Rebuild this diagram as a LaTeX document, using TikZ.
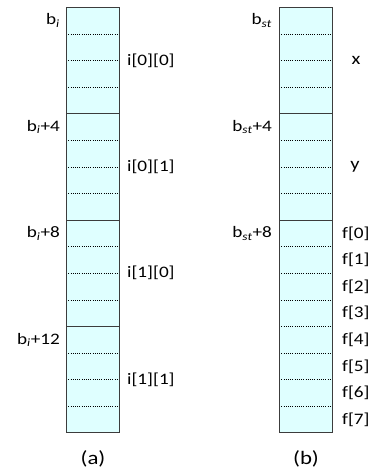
\documentclass[tikz,border=0pt]{standalone}
\usepackage{fontspec}
\setmainfont[FakeStretch=1.2]{Carlito}
\definecolor{cellfill}{RGB}{223,255,255}
\definecolor{edge}{RGB}{60,60,60}
\begin{document}
\begin{tikzpicture}[x=1pt,y=-1pt,
  cell/.style={draw=none,fill=cellfill,minimum width=53.5pt,minimum height=26.6pt,inner sep=0pt,outer sep=0pt},
  addr/.style={anchor=east,inner sep=0pt,font=\fontsize{16}{18}\selectfont},
  var/.style={anchor=west,inner sep=0pt,font=\fontsize{16}{18}\selectfont},
  vartext/.style={inner sep=0pt,font=\fontsize{17}{19}\selectfont},
  captext/.style={inner sep=0pt,font=\fontsize{19}{21}\selectfont},
  dotsep/.style={line width=0.6pt,dash pattern=on 0.8pt off 1.4pt},
  solidsep/.style={line width=0.8pt,draw=edge},
  frame/.style={line width=0.9pt,draw=edge}]
\useasboundingbox (0,0) rectangle (373,472);
% column (a)
\foreach \k in {0,...,15} {
  \node[cell] (a\k) at (93,{7.3+26.6*\k+13.3}) {};
}
% column (b)
\foreach \k in {0,...,15} {
  \node[cell] (b\k) at (306,{7.3+26.6*\k+13.3}) {};
}
% separators
\foreach \k in {1,2,3,5,6,7,9,10,11,13,14,15} {
  \draw[dotsep] (a\k.north west) -- (a\k.north east);
}
\foreach \k in {4,8,12} {
  \draw[solidsep] (a\k.north west) -- (a\k.north east);
}
\foreach \k in {1,2,3,5,6,7,9,10,11,12,13,14,15} {
  \draw[dotsep] (b\k.north west) -- (b\k.north east);
}
\foreach \k in {4,8} {
  \draw[solidsep] (b\k.north west) -- (b\k.north east);
}
\draw[frame] (a0.north west) rectangle (a15.south east);
\draw[frame] (b0.north west) rectangle (b15.south east);
% address labels (a)
\node[addr] (la0) at (60,20.6) {b\textsubscript{\itshape i}};
\node[addr] (la4) at (60,127) {b\textsubscript{\itshape i}+4};
\node[addr] (la8) at (60,233.4) {b\textsubscript{\itshape i}+8};
\node[addr] (la12) at (60,339.8) {b\textsubscript{\itshape i}+12};
% variable labels (a)
\node[var] (v00) at (127,60.5) {i[0][0]};
\node[var] (v01) at (127,166.9) {i[0][1]};
\node[var] (v10) at (127,273.3) {i[1][0]};
\node[var] (v11) at (127,379.7) {i[1][1]};
% address labels (b)
\node[addr] (lb0) at (272,20.6) {b\textsubscript{\itshape st}};
\node[addr] (lb4) at (272,127) {b\textsubscript{\itshape st}+4};
\node[addr] (lb8) at (272,233.4) {b\textsubscript{\itshape st}+8};
% variable labels (b)
\node[vartext] (vx) at (356,60.5) {x};
\node[vartext] (vy) at (355,166.9) {y};
\foreach \k in {0,...,7} {
  \pgfmathtruncatemacro{\c}{\k+8}
  \node[var] (f\k) at (342,{7.3+26.6*\c+13.3}) {f[\k]};
}
% captions
\node[captext] (capa) at (93,459) {(a)};
\node[captext] (capb) at (306,459) {(b)};
\end{tikzpicture}
\end{document}
